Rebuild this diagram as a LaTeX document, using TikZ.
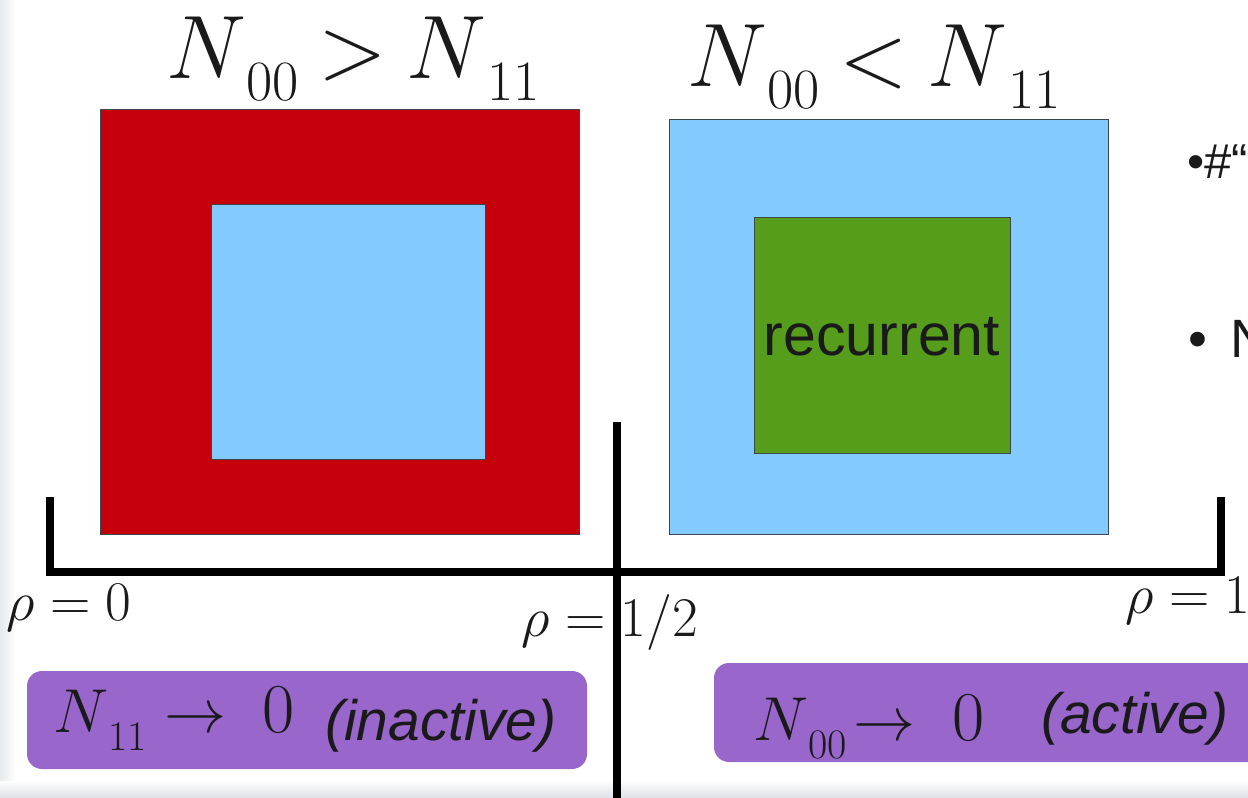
\documentclass[tikz,border=0pt]{standalone}
\usepackage{fix-cm}
\usepackage{fontspec}
\setsansfont{Liberation Sans}
\usepackage{tikz}
\usetikzlibrary{calc, positioning}
\definecolor{Crimson}{HTML}{C5000B}
\definecolor{SkyBlue}{HTML}{83CAFF}
\definecolor{LeafGreen}{HTML}{579D1C}
\definecolor{Amethyst}{HTML}{9966CC}
\definecolor{Ink}{HTML}{1A1A1A}
\definecolor{EdgeGray}{HTML}{3C4650}
\definecolor{Haze}{HTML}{DDE1E6}
\newcommand{\lowsub}[3]{\raisebox{-#1}{\fontsize{#2}{#2}\selectfont #3}}

\begin{document}
\begin{tikzpicture}[x=1pt, y=-1pt,
        sq/.style={draw=EdgeGray, line width=0.9pt, inner sep=0pt, outer sep=0pt},
        pill/.style={fill=Amethyst, rounded corners=15pt, inner sep=0pt, outer sep=0pt},
        axis/.style={line width=7.5pt, black},
        title/.style={text=Ink, inner sep=0pt, anchor=base west, font=\fontsize{90}{96}\selectfont},
        rholbl/.style={text=Ink, inner sep=0pt, anchor=base west, font=\fontsize{56}{60}\selectfont},
        boxmath/.style={text=Ink, inner sep=0pt, anchor=base west, font=\fontsize{62}{66}\selectfont},
        boxtext/.style={text=Ink, inner sep=0pt, anchor=base west, font=\fontsize{57}{60}\selectfont\sffamily\itshape},
        bullet/.style={text=Ink, inner sep=0pt, anchor=base west, font=\sffamily}]
        \useasboundingbox (0,0) rectangle (1248,798);
        \clip (0,0) rectangle (1248,798);
        \shade[top color=white, bottom color=Haze] (0,780) rectangle (1248,798);
        \shade[left color=Haze!70, right color=white] (0,0) rectangle (16,780);
        \node[sq, fill=Crimson, minimum width=479pt, minimum height=425pt] (red) at (339.5,321.5) {};
        \node[sq, fill=SkyBlue, minimum width=274pt, minimum height=255pt] (hole) at (348,331.5) {};
        \node[sq, fill=SkyBlue, minimum width=439pt, minimum height=415pt] (blue) at (888.5,326.5) {};
        \node[sq, fill=LeafGreen, minimum width=256pt, minimum height=236pt] (rec) at (882,335) {};
        \node[text=Ink, inner sep=0pt, anchor=base, font=\fontsize{59}{64}\selectfont\sffamily] (rectxt) at (882,355) {recurrent};
        \node[title] (gt) at (166,78) {$N\lowsub{22pt}{57}{00}\mskip-1mu>\mskip-1mu N\lowsub{22pt}{57}{11}$};
        \node[title] (lt) at (687,86) {$N\lowsub{22pt}{57}{00}\mskip-1mu<\mskip-1mu N\lowsub{22pt}{57}{11}$};
        \coordinate (l0) at (50,497);
        \coordinate (lb) at (50,572);
        \coordinate (rb) at (1221,572);
        \coordinate (r0) at (1221,497);
        \coordinate (mtop) at (617,422);
        \coordinate (mbot) at (617,798);
        \draw[axis] (l0) -- (lb) -- (rb) -- (r0);
        \draw[axis] (mtop) -- (mbot);
        \node[rholbl] (rho0) at (6,620) {$\rho=0$};
        \node[rholbl] (rhoh) at (521,636) {$\rho=1/2$};
        \node[rholbl] (rho1) at (1125,613) {$\rho=1$};
        \node[pill, minimum width=560pt, minimum height=98pt, anchor=north west] (inact) at (27,671) {};
        \node[pill, minimum width=560pt, minimum height=99pt, anchor=north west] (act) at (714,663) {};
        \node[boxmath] (n11) at (53,732) {$N\lowsub{18pt}{42}{11}\rightarrow$\hspace{36pt}\fontsize{70}{72}\selectfont 0};
        \node[boxtext] (inacttxt) at (325,740) {(inactive)};
        \node[boxmath] (n00) at (753,740) {$N\lowsub{18pt}{42}{00}\mskip-3mu\rightarrow$\hspace{37pt}\fontsize{70}{72}\selectfont 0};
        \node[boxtext] (acttxt) at (1041,733) {(active)};
        \node[bullet, font=\sffamily\fontsize{49}{52}\selectfont] (b1) at (1187,178) {•\#“};
        \node[bullet, font=\sffamily\fontsize{54}{58}\selectfont] (b2) at (1188,357) {•\hspace{23pt}N};
      \end{tikzpicture}
\end{document}
